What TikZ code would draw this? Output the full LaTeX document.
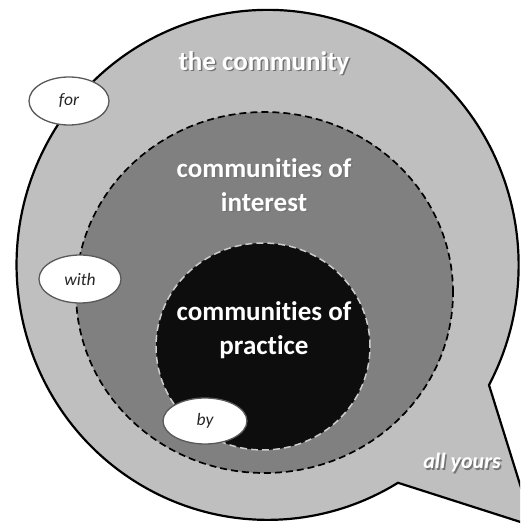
\documentclass[tikz,border=0pt]{standalone}
\usepackage{fontspec}
\setmainfont{Carlito}[RawFeature={-liga;-clig;-dlig}]
\usetikzlibrary{shapes.geometric}
\definecolor{outerfill}{gray}{0.75}
\definecolor{midfill}{gray}{0.5}
\definecolor{innerfill}{gray}{0.05}
\definecolor{shadowgray}{gray}{0.45}
\tikzset{
  bigtext/.style={text=white, font=\fontsize{27}{34}\selectfont\bfseries, align=center, inner sep=0pt},
  shadowtext/.style={text=shadowgray, font=\fontsize{27}{34}\selectfont\bfseries, align=center, inner sep=0pt},
  tag/.style={ellipse, draw=black!65, line width=1.3pt, fill=white, inner sep=0pt,
    font=\fontsize{17.5}{20}\selectfont\itshape, text=black!85},
  midring/.style={ellipse, draw=black, dash pattern=on 7pt off 4pt, line width=1.7pt, fill=midfill, inner sep=0pt},
  innerring/.style={ellipse, draw=black!20, dash pattern=on 7pt off 4pt, line width=1.5pt, fill=innerfill, inner sep=0pt},
}
\begin{document}
\begin{tikzpicture}[x=1pt,y=1pt]
\useasboundingbox (0,0) rectangle (520,528);
\clip (0,0) rectangle (520,528);
% outer speech bubble
\coordinate (tailstart) at (489,143);
\coordinate (tip) at (533,2);
\filldraw[fill=outerfill, draw=black, line width=2.2pt, line join=miter]
  (tailstart) arc[start angle=-28.1, end angle=301.3, x radius=251, y radius=255]
  coordinate (tailend) -- (tip) -- cycle;
% rings
\node[midring, minimum width=377pt, minimum height=361pt] (mid) at (264.5,235.5) {};
\node[innerring, minimum width=214pt, minimum height=207pt] (inner) at (263,181.5) {};
% titles
\node[shadowtext] (commS) at (265.5,463.5) {the community};
\node[bigtext] (comm) at (264,465) {the community};
\node[shadowtext] (coiS) at (265.5,341.5) {communities of\\interest};
\node[bigtext] (coi) at (264,343) {communities of\\interest};
\node[bigtext] (cop) at (264,198) {communities of\\practice};
\node[text=shadowgray, font=\fontsize{22}{26}\selectfont\bfseries\itshape, inner sep=0pt] (allS) at (463.5,63.5) {all yours};
\node[text=white, font=\fontsize{22}{26}\selectfont\bfseries\itshape, inner sep=0pt] (all) at (462,65) {all yours};
% tags
\node[tag, minimum width=80pt, minimum height=48pt] (for) at (69,427) {for};
\node[tag, minimum width=82pt, minimum height=48pt] (with) at (80,249) {with};
\node[tag, minimum width=84pt, minimum height=46pt] (by) at (205,107) {by};
\end{tikzpicture}
\end{document}
